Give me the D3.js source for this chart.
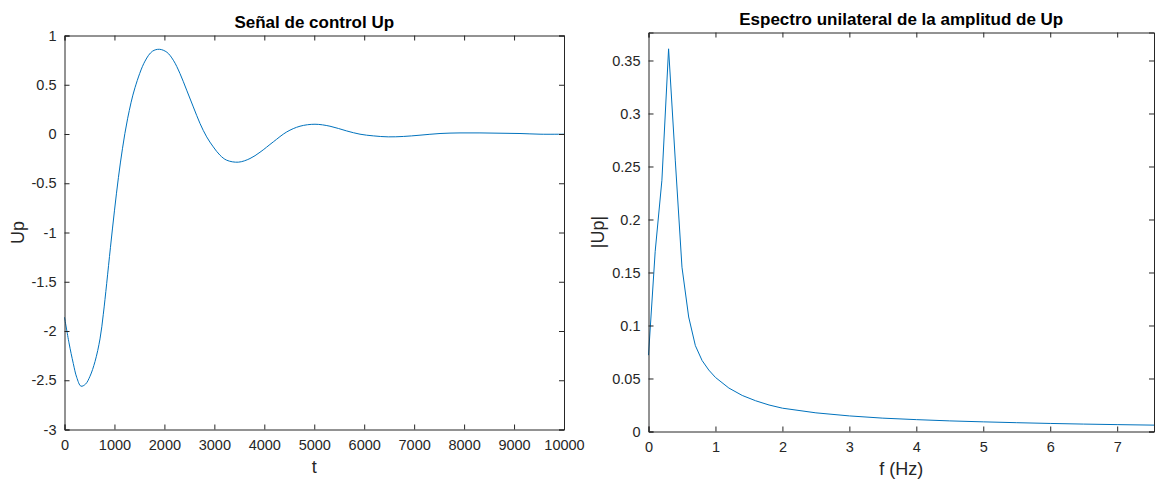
<!DOCTYPE html>
<html>
<head>
<meta charset="utf-8">
<script src="https://cdn.jsdelivr.net/npm/d3@7"></script>
<style>
  body { margin: 0; background: #fff; }
  svg { font-family: "Liberation Sans", Arial, Helvetica, sans-serif; }
</style>
</head>
<body>
<div id="chart"></div>
<script>
// left panel: control signal Up over t
var tVals = [0, 90, 176, 244, 330, 420, 510, 611, 711, 777, 844, 920, 1000, 1080, 1160, 1265, 1411, 1612,
             1760, 1900, 2050, 2179, 2312, 2446, 2579, 2713, 2846, 2979, 3113, 3247, 3480, 3714, 3914,
             4180, 4449, 4715, 5015, 5315, 5650, 5916, 6182, 6482, 6783, 7117, 7518, 7918, 8318, 8719,
             9119, 9520, 10000];
var upVals = [-1.86, -2.12, -2.33, -2.47, -2.56, -2.54, -2.46, -2.31, -2.08, -1.83, -1.52, -1.15, -0.78,
              -0.44, -0.15, 0.16, 0.47, 0.74, 0.84, 0.86, 0.83, 0.749, 0.614, 0.445, 0.275, 0.107,
              -0.029, -0.131, -0.215, -0.266, -0.286, -0.249, -0.185, -0.08, 0.021, 0.079, 0.099, 0.079,
              0.031, -0.002, -0.019, -0.029, -0.025, -0.012, 0.005, 0.011, 0.011, 0.008, 0.005, -0.002,
              -0.002];
var tTicks = [0, 1000, 2000, 3000, 4000, 5000, 6000, 7000, 8000, 9000, 10000];
var upTicks = [-3, -2.5, -2, -1.5, -1, -0.5, 0, 0.5, 1];

// right panel: single-sided amplitude spectrum
var fVals = [0, 0.1, 0.2, 0.3, 0.4, 0.5, 0.6, 0.7, 0.8, 0.9, 1.0, 1.2, 1.4, 1.6, 1.8, 2.0, 2.5, 3.0,
             3.5, 4.0, 4.5, 5.0, 5.5, 6.0, 6.5, 7.0, 7.55];
var ampVals = [0.072, 0.170, 0.237, 0.361, 0.256, 0.155, 0.108, 0.081, 0.067, 0.058, 0.051, 0.041, 0.034,
               0.029, 0.025, 0.022, 0.0176, 0.0147, 0.0126, 0.0112, 0.0100, 0.0091, 0.0083, 0.0076,
               0.0070, 0.0065, 0.0060];
var fTicks = [0, 1, 2, 3, 4, 5, 6, 7];
var ampTicks = [0, 0.05, 0.1, 0.15, 0.2, 0.25, 0.3, 0.35];

var svg = d3.select("#chart").append("svg")
            .attr("width", 1155)
            .attr("height", 481);

var axisColor = "#262626",
    lineColor = "#0072BD";

function panel(opt) {
  var x = d3.scaleLinear().domain(opt.xDomain).range([opt.left, opt.right]),
      y = d3.scaleLinear().domain(opt.yDomain).range([opt.bottom, opt.top]);

  // line first, axes drawn over it
  var pts = opt.xs.map(function(d, i) { return [d, opt.ys[i]]; });
  svg.append("path")
     .datum(pts)
     .attr("fill", "none")
     .attr("stroke", lineColor)
     .attr("stroke-width", 1)
     .attr("d", d3.line()
       .x(function(d) { return x(d[0]); })
       .y(function(d) { return y(d[1]); })
       .curve(opt.curve));

  var tk = 5;
  var fmt = function(d) { return String(+d.toFixed(4)); };
  svg.append("g").attr("transform", "translate(0," + opt.bottom + ")")
     .call(d3.axisBottom(x).tickValues(opt.xTicks).tickSize(-tk).tickPadding(10).tickFormat(fmt));
  svg.append("g").attr("transform", "translate(0," + opt.top + ")")
     .call(d3.axisTop(x).tickValues(opt.xTicks).tickSize(-tk).tickFormat(""));
  svg.append("g").attr("transform", "translate(" + opt.left + ",0)")
     .call(d3.axisLeft(y).tickValues(opt.yTicks).tickSize(-tk).tickPadding(8).tickFormat(fmt));
  svg.append("g").attr("transform", "translate(" + opt.right + ",0)")
     .call(d3.axisRight(y).tickValues(opt.yTicks).tickSize(-tk).tickFormat(""));

  svg.selectAll(".domain").attr("stroke", axisColor);
  svg.selectAll(".tick line").attr("stroke", axisColor);
  svg.selectAll(".tick text").attr("fill", axisColor).style("font-size", "14.5px")
     .style("font-family", "'Liberation Sans', Arial, sans-serif");

  var cx = (opt.left + opt.right) / 2,
      cy = (opt.top + opt.bottom) / 2;
  svg.append("text")
     .attr("x", cx).attr("y", opt.top - 8)
     .attr("text-anchor", "middle")
     .style("font-size", "17px").style("font-weight", "bold").attr("fill", "#000")
     .text(opt.title);
  svg.append("text")
     .attr("x", cx).attr("y", opt.bottom + 43)
     .attr("text-anchor", "middle")
     .style("font-size", "18px").attr("fill", axisColor)
     .text(opt.xLabel);
  svg.append("text")
     .attr("transform", "translate(" + opt.yLabelX + "," + cy + ") rotate(-90)")
     .attr("text-anchor", "middle")
     .style("font-size", "18px").attr("fill", axisColor)
     .text(opt.yLabel);
}

panel({
  left: 64.5, right: 564, top: 35.5, bottom: 429.5,
  xDomain: [0, 10000], yDomain: [-3, 1],
  xs: tVals, ys: upVals, curve: d3.curveCatmullRom.alpha(0.5),
  xTicks: tTicks, yTicks: upTicks,
  title: "Señal de control Up", xLabel: "t", yLabel: "Up", yLabelX: 24
});

panel({
  left: 648.5, right: 1154, top: 32.5, bottom: 431.5,
  xDomain: [0, 7.55], yDomain: [0, 0.3764],
  xs: fVals, ys: ampVals, curve: d3.curveLinear,
  xTicks: fTicks, yTicks: ampTicks,
  title: "Espectro unilateral de la amplitud de Up", xLabel: "f (Hz)", yLabel: "|Up|", yLabelX: 604
});
</script>
</body>
</html>
